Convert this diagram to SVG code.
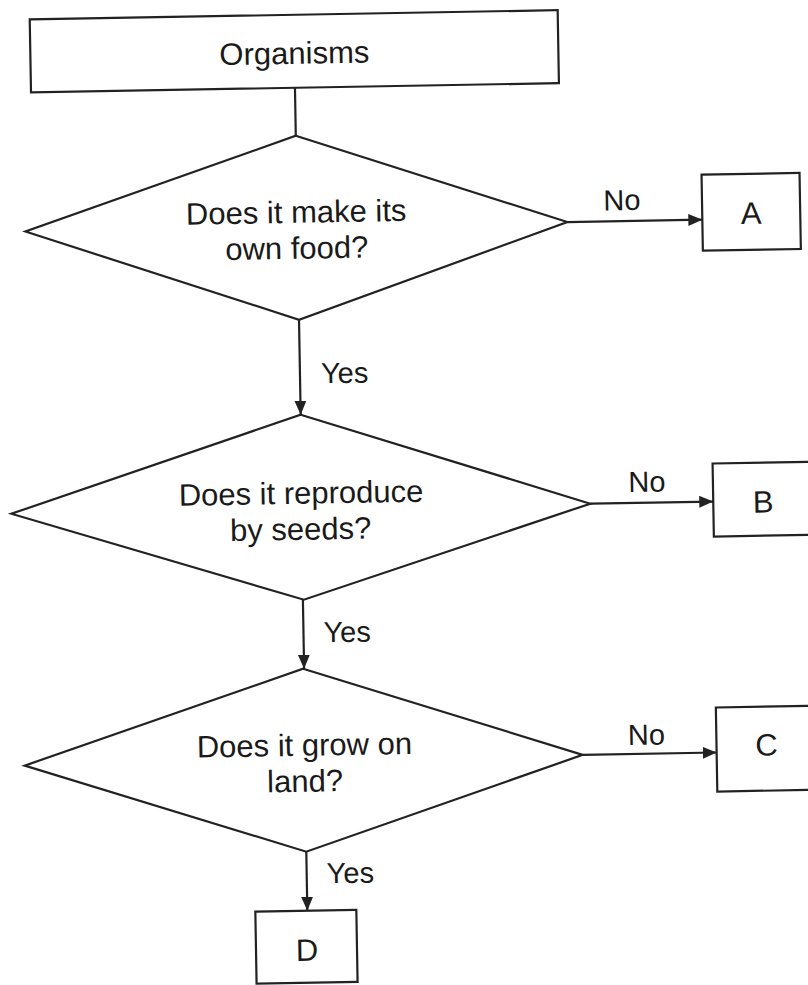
<svg xmlns="http://www.w3.org/2000/svg" width="808" height="985" viewBox="0 0 808 985">
<style>
.shape{fill:#fff;stroke:#222;stroke-width:2.2}
.conn{fill:none;stroke:#222;stroke-width:2.2}
.t{font-family:"Liberation Sans",Arial,sans-serif;font-size:31px;fill:#1a1a1a;text-anchor:middle}
.l{font-family:"Liberation Sans",Arial,sans-serif;font-size:29px;fill:#1a1a1a}
</style>
<defs>
<marker id="arr" markerUnits="userSpaceOnUse" markerWidth="16" markerHeight="14" refX="14" refY="6" orient="auto">
<path d="M0,0 L14,6 L0,12 Z" fill="#222"/>
</marker>
</defs>
<rect width="808" height="985" fill="#fff"/>
<g transform="rotate(-1 400 490)">
<g id="connectors">
<line class="conn" x1="302" y1="86" x2="302" y2="134"/>
<line class="conn" x1="572" y1="225" x2="707" y2="225" marker-end="url(#arr)"/>
<line class="conn" x1="302" y1="318" x2="302" y2="413" marker-end="url(#arr)"/>
<line class="conn" x1="590" y1="507" x2="713" y2="507" marker-end="url(#arr)"/>
<line class="conn" x1="301" y1="598" x2="301" y2="667" marker-end="url(#arr)"/>
<line class="conn" x1="578" y1="758" x2="712" y2="758" marker-end="url(#arr)"/>
<line class="conn" x1="300" y1="850" x2="300" y2="909" marker-end="url(#arr)"/>
<text class="l" x="627" y="214" text-anchor="middle">No</text>
<text class="l" x="323" y="382">Yes</text>
<text class="l" x="647" y="496" text-anchor="middle">No</text>
<text class="l" x="321" y="641">Yes</text>
<text class="l" x="642" y="749" text-anchor="middle">No</text>
<text class="l" x="320" y="882">Yes</text>
</g>
<g id="organisms">
<rect class="shape" x="38" y="13" width="528" height="73"/>
<text class="t" x="302" y="62">Organisms</text>
</g>
<g id="q1">
<polygon class="shape" points="302,134 572,225 302,318 30,225"/>
<text class="t" x="301" y="221">Does it make its</text>
<text class="t" x="301" y="257">own food?</text>
</g>
<g id="A">
<rect class="shape" x="707" y="180" width="98" height="76"/>
<text class="t" x="756" y="230">A</text>
</g>
<g id="q2">
<polygon class="shape" points="302,413 590,507 302,598 11,507"/>
<text class="t" x="301" y="502">Does it reproduce</text>
<text class="t" x="300" y="538">by seeds?</text>
</g>
<g id="B">
<rect class="shape" x="713" y="469" width="100" height="73"/>
<text class="t" x="763" y="519">B</text>
</g>
<g id="q3">
<polygon class="shape" points="300,667 578,758 300,850 20,759"/>
<text class="t" x="300" y="754">Does it grow on</text>
<text class="t" x="300" y="790">land?</text>
</g>
<g id="C">
<rect class="shape" x="712" y="713" width="101" height="84"/>
<text class="t" x="762" y="762">C</text>
</g>
<g id="D">
<rect class="shape" x="248" y="909" width="101" height="72"/>
<text class="t" x="299" y="959">D</text>
</g>
</g>
</svg>
